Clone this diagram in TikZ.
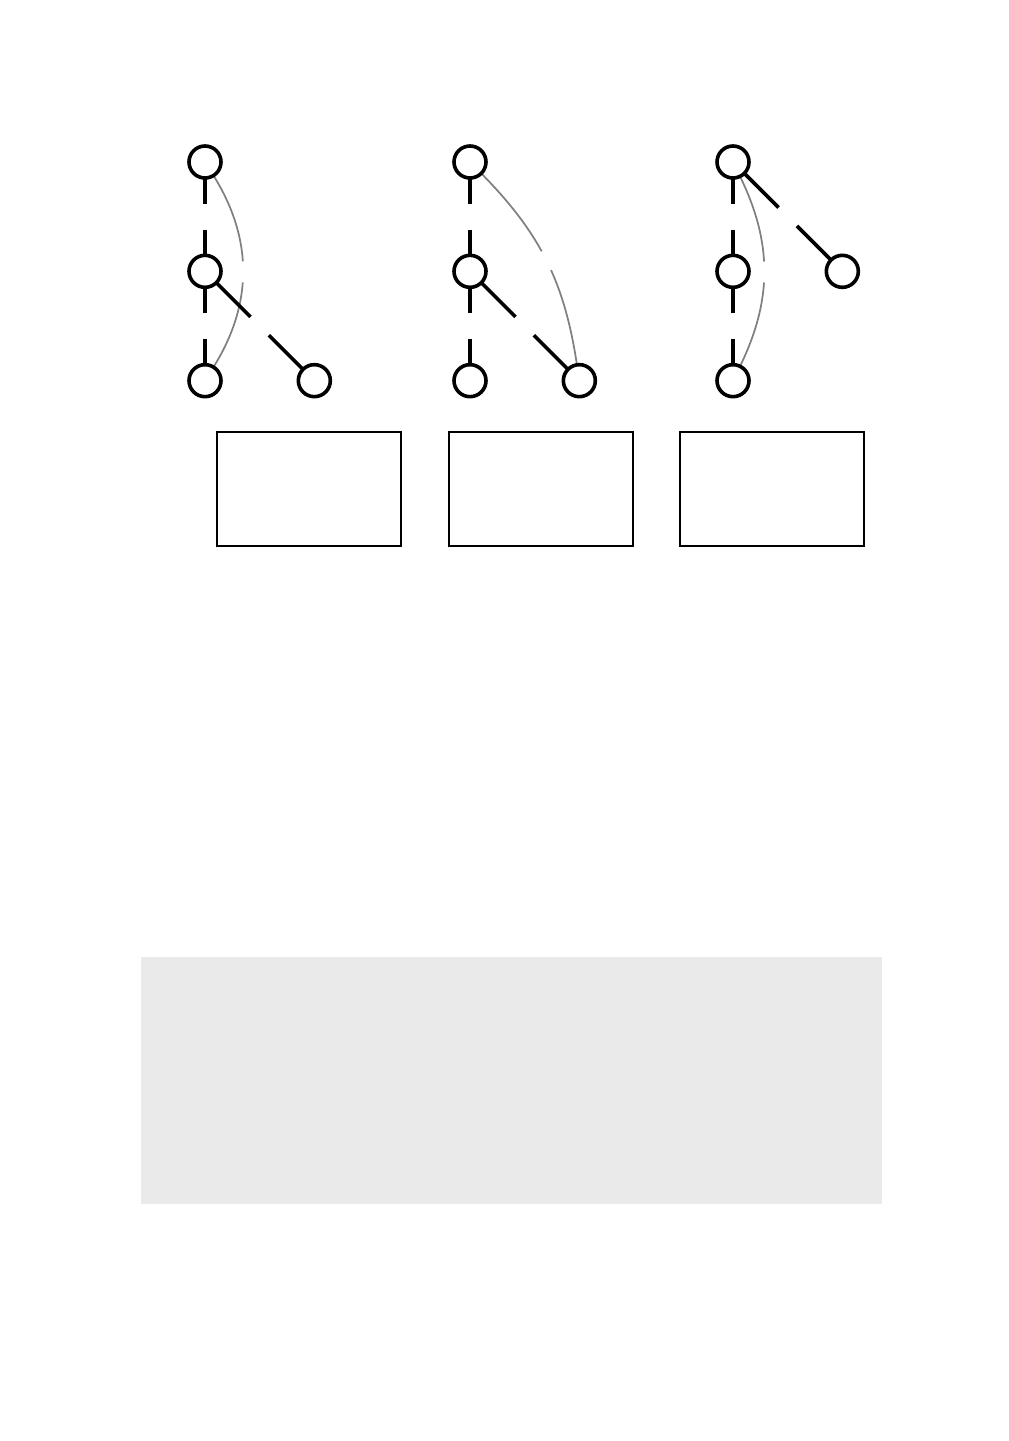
\documentclass[tikz,border=0pt]{standalone}
\usepackage{xcolor}
\usepackage{tikz}
\usetikzlibrary{positioning,backgrounds}
\definecolor{boxGray}{HTML}{EAEAEA}
\definecolor{backGray}{HTML}{808080}

\begin{document}
\begin{tikzpicture}[
    x=0.75pt, y=0.75pt,
    node distance=58pt,
    vertex/.style={circle, draw=black, line width=2.7pt, minimum size=24pt, inner sep=0pt, outer sep=0pt},
    treeEdge/.style={line width=2.7pt, dash pattern=on #1 off 19.5pt},
    backEdge/.style={backGray, line width=1.3pt, dash pattern=on #1 off 15.75pt},
    emptyBox/.style={rectangle, draw=black, line width=1.5pt, minimum width=138pt, minimum height=85.5pt, inner sep=0pt}
]
\useasboundingbox (0,0) rectangle (1009,-1441);

% first tree
\node[vertex] (a1) at (205,-162) {};
\node[vertex, below=of a1] (b1) {};
\node[vertex, below=of b1] (c1) {};
\node[vertex, right=of c1] (d1) {};

% second tree
\node[vertex] (a2) at (470,-162) {};
\node[vertex, below=of a2] (b2) {};
\node[vertex, below=of b2] (c2) {};
\node[vertex, right=of c2] (d2) {};

% third tree
\node[vertex] (a3) at (733,-162) {};
\node[vertex, below=of a3] (b3) {};
\node[vertex, below=of b3] (c3) {};
\node[vertex, right=of b3] (d3) {};

\node[emptyBox] (box1) at (309,-489) {};
\node[emptyBox] (box2) at (540.5,-489) {};
\node[emptyBox] (box3) at (772,-489) {};

\node[fill=boxGray, minimum width=555.75pt, minimum height=185.25pt, inner sep=0pt] (notes) at (511.5,-1080.5) {};

\begin{scope}[on background layer]
\draw[backEdge=68.8pt] (a1) to[bend left=32] (c1);
\draw[treeEdge=19.3pt] (a1) -- (b1);
\draw[treeEdge=19.3pt] (b1) -- (c1);
\draw[treeEdge=36.3pt] (b1) -- (d1);

\draw[backEdge=74.2pt] (a2) to[bend left=18] (d2);
\draw[treeEdge=19.3pt] (a2) -- (b2);
\draw[treeEdge=19.3pt] (b2) -- (c2);
\draw[treeEdge=36.3pt] (b2) -- (d2);

\draw[backEdge=66.8pt] (a3) to[bend left=26] (c3);
\draw[treeEdge=19.3pt] (a3) -- (b3);
\draw[treeEdge=19.3pt] (b3) -- (c3);
\draw[treeEdge=36.3pt] (a3) -- (d3);
\end{scope}

\end{tikzpicture}
\end{document}
